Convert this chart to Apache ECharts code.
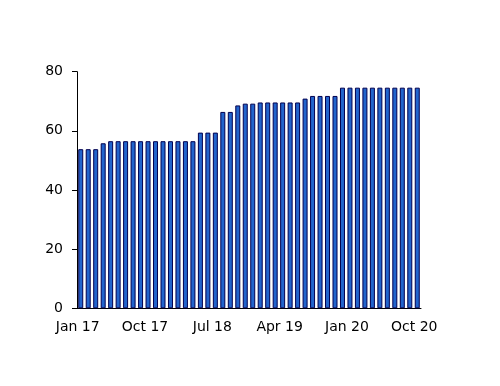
<!DOCTYPE html>
<html><head><meta charset="utf-8">
<script src="https://cdn.jsdelivr.net/npm/echarts@6/dist/echarts.min.js"></script>
<style>html,body{margin:0;padding:0;background:#fff}#c{width:500px;height:386px}</style>
</head><body><div id="c"></div>
<script>
const months = ["Jan","Feb","Mar","Apr","May","Jun","Jul","Aug","Sep","Oct","Nov","Dec"];
const categories = [];
for (let y = 17; y <= 20; y++) for (let m = 0; m < 12; m++) { if (y === 20 && m > 9) break; categories.push(months[m] + " " + y); }
const values = [53.8,53.8,53.8,55.8,
  56.5,56.5,56.5,56.5,56.5,56.5,56.5,56.5,56.5,56.5,56.5,56.5,
  59.4,59.4,59.4,66.4,66.4,68.6,69.2,69.2,
  69.6,69.6,69.6,69.6,69.6,69.6,70.9,71.8,71.8,71.8,71.8,
  74.6,74.6,74.6,74.6,74.6,74.6,74.6,74.6,74.6,74.6,74.6];
const yTicks = {min: 0, max: 80, interval: 20};
const font = "DejaVu Sans";
const chart = echarts.init(document.getElementById('c'));
chart.setOption({
  animation: false,
  grid: {left: 77, right: 79, top: 71.7, bottom: 77.7, containLabel: false},
  xAxis: {
    type: 'category', data: categories, boundaryGap: true,
    axisLine: {lineStyle: {color: '#000', width: 1}},
    axisTick: {interval: 8, length: 5, lineStyle: {color: '#000'}},
    axisLabel: {interval: 8, color: '#000', fontFamily: font, fontSize: 14, margin: 12, padding: [0, 6, 0, 0]},
    splitLine: {show: false}
  },
  yAxis: {
    type: 'value', min: yTicks.min, max: yTicks.max, interval: yTicks.interval,
    axisLine: {show: true, lineStyle: {color: '#000', width: 1}},
    axisTick: {show: true, length: 5, lineStyle: {color: '#000'}},
    axisLabel: {color: '#000', fontFamily: font, fontSize: 14, margin: 14},
    splitLine: {show: false}
  },
  series: [{
    type: 'bar', data: values, barWidth: 5,
    itemStyle: {color: '#2264cc', borderColor: '#000050', borderWidth: 1}
  }]
});
</script></body></html>
